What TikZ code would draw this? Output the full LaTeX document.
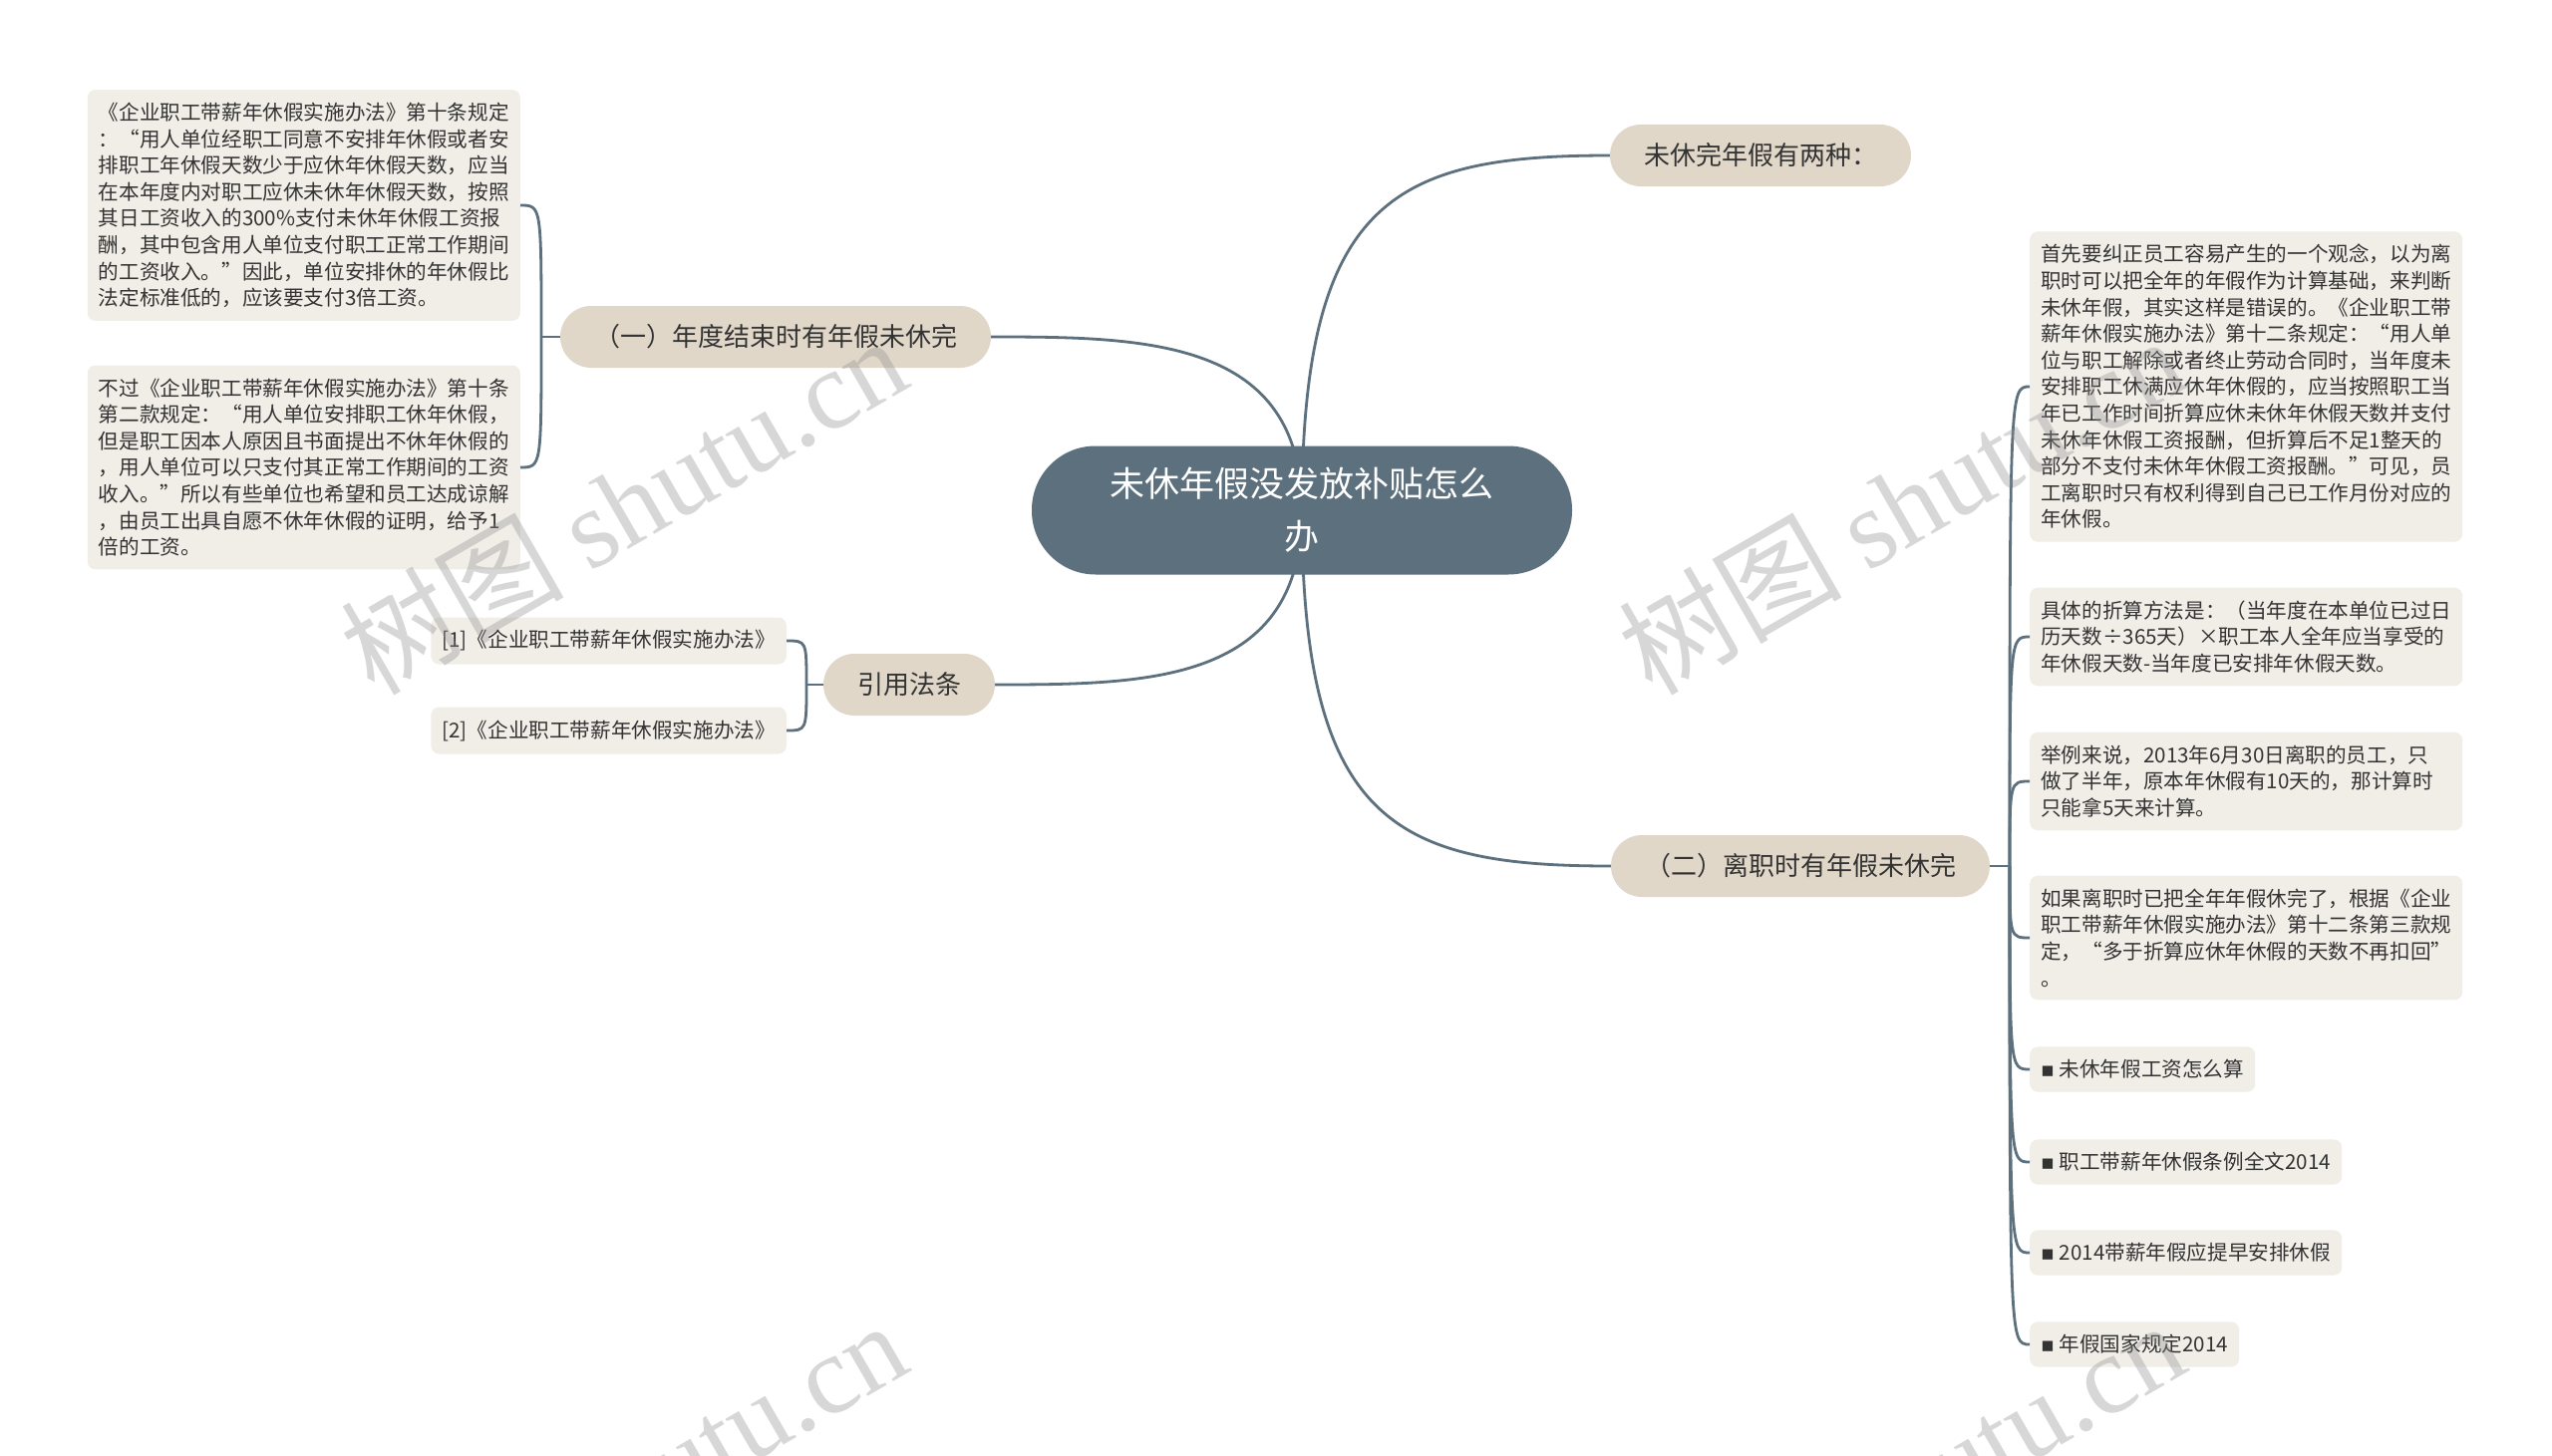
\documentclass[tikz,border=0pt]{standalone}
\usepackage{fontspec}
\setmainfont{Noto Sans CJK SC}
\newfontfamily\wmlatin{Liberation Serif}
\newfontfamily\symfont{DejaVu Sans}
\usetikzlibrary{calc,positioning,backgrounds}

\definecolor{slate}{HTML}{5D707D}
\definecolor{sand}{HTML}{E0D7C9}
\definecolor{paper}{HTML}{F1EEE8}
\definecolor{ink}{HTML}{333333}
\definecolor{wmgray}{HTML}{8E8E8E}

\newcommand{\sqbullet}{{\symfont ▪}\ }

\begin{document}
\begin{tikzpicture}[x=1pt,y=-1pt,
    topicnode/.style={fill=slate, text=white, rounded corners=64pt, minimum width=542pt,
        minimum height=129pt, align=center, font=\fontsize{35}{53}\selectfont},
    branchnode/.style={fill=sand, text=ink, rounded corners=31pt, minimum height=62pt,
        inner xsep=34pt, font=\fontsize{26}{30}\selectfont},
    leafnode/.style={fill=paper, text=ink, rounded corners=8pt, inner xsep=11pt,
        inner ysep=13pt, align=left, font=\fontsize{20.6}{26.6}\selectfont},
    bigleaf/.style={leafnode, text width=412pt},
    linkline/.style={draw=slate, line width=2.8pt},
    wmtext/.style={text=wmgray, opacity=0.35, rotate=30, font=\fontsize{112}{112}\selectfont}]

        \useasboundingbox (0,0) rectangle (2560,1461);

        % 中心主题 root
        \node[topicnode] (root) at (1306,512) {未休年假没发放补贴怎么\\办};

        % 分支 branches
        \node[branchnode] (twokinds) at (1766,156) {未休完年假有两种：};
        \node[branchnode] (yearend) at (778,338) {（一）年度结束时有年假未休完};
        \node[branchnode] (lawref) at (912,687) {引用法条};
        \node[branchnode] (resign) at (1806,869) {（二）离职时有年假未休完};

        % 左侧叶子 left leaves
        \node[bigleaf, anchor=east] (yearA) at (522,206) {%
《企业职工带薪年休假实施办法》第十条规定\\
：“用人单位经职工同意不安排年休假或者安\\
排职工年休假天数少于应休年休假天数，应当\\
在本年度内对职工应休未休年休假天数，按照\\
其日工资收入的300\%支付未休年休假工资报\\
酬，其中包含用人单位支付职工正常工作期间\\
的工资收入。”因此，单位安排休的年休假比\\
法定标准低的，应该要支付3倍工资。};
        \node[bigleaf, anchor=east] (yearB) at (522,469) {%
不过《企业职工带薪年休假实施办法》第十条\\
第二款规定：“用人单位安排职工休年休假，\\
但是职工因本人原因且书面提出不休年休假的\\
，用人单位可以只支付其正常工作期间的工资\\
收入。”所以有些单位也希望和员工达成谅解\\
，由员工出具自愿不休年休假的证明，给予1\\
倍的工资。};
        \node[leafnode, anchor=east] (refA) at (789,643) {[1]《企业职工带薪年休假实施办法》};
        \node[leafnode, anchor=east] (refB) at (789,733) {[2]《企业职工带薪年休假实施办法》};

        % 右侧叶子 right leaves
        \node[bigleaf, anchor=west] (quitA) at (2036,388) {%
首先要纠正员工容易产生的一个观念，以为离\\
职时可以把全年的年假作为计算基础，来判断\\
未休年假，其实这样是错误的。《企业职工带\\
薪年休假实施办法》第十二条规定：“用人单\\
位与职工解除或者终止劳动合同时，当年度未\\
安排职工休满应休年休假的，应当按照职工当\\
年已工作时间折算应休未休年休假天数并支付\\
未休年休假工资报酬，但折算后不足1整天的\\
部分不支付未休年休假工资报酬。”可见，员\\
工离职时只有权利得到自己已工作月份对应的\\
年休假。};
        \node[bigleaf, anchor=west] (quitB) at (2036,639) {%
具体的折算方法是：（当年度在本单位已过日\\
历天数÷365天）×职工本人全年应当享受的\\
年休假天数-当年度已安排年休假天数。};
        \node[bigleaf, anchor=west] (quitC) at (2036,784) {%
举例来说，2013年6月30日离职的员工，只\\
做了半年，原本年休假有10天的，那计算时\\
只能拿5天来计算。};
        \node[bigleaf, anchor=west] (quitD) at (2036,941) {%
如果离职时已把全年年假休完了，根据《企业\\
职工带薪年休假实施办法》第十二条第三款规\\
定，“多于折算应休年休假的天数不再扣回”\\
。};
        \node[leafnode, anchor=west] (quitE) at (2036,1073) {\sqbullet 未休年假工资怎么算};
        \node[leafnode, anchor=west] (quitF) at (2036,1166) {\sqbullet 职工带薪年休假条例全文2014};
        \node[leafnode, anchor=west] (quitG) at (2036,1257) {\sqbullet 2014带薪年假应提早安排休假};
        \node[leafnode, anchor=west] (quitH) at (2036,1349) {\sqbullet 年假国家规定2014};

        \coordinate (yearfork) at (543,338);
        \coordinate (reffork) at (809,687);
        \coordinate (quitfork) at (2016,869);

        \begin{pgfonlayer}{background}
            \fill[white] (0,0) rectangle (2560,1461);
            \draw[linkline] (root.center) .. controls +(0,-312) and +(-216,0) .. (twokinds.west);
            \draw[linkline] (root.center) .. controls +(0,-172) and +(156,0) .. (yearend.east);
            \draw[linkline] (root.center) .. controls +(0,173) and +(156,0) .. (lawref.east);
            \draw[linkline] (root.center) .. controls +(0,313) and +(-216,0) .. (resign.west);
        \end{pgfonlayer}

        % 括号连线 brackets
        \draw[linkline] (yearend.west) -- (yearfork);
        \foreach \v in {yearA,yearB}
        {
            \draw[linkline] (yearfork) .. controls (yearfork |- \v.east) and (yearfork |- \v.east) .. (\v.east);
        };
        \draw[linkline] (lawref.west) -- (reffork);
        \foreach \v in {refA,refB}
        {
            \draw[linkline] (reffork) .. controls (reffork |- \v.east) and (reffork |- \v.east) .. (\v.east);
        };
        \draw[linkline] (resign.east) -- (quitfork);
        \foreach \v in {quitA,quitB,quitC,quitD,quitE,quitF,quitG,quitH}
        {
            \draw[linkline] (quitfork) .. controls (quitfork |- \v.west) and (quitfork |- \v.west) .. (\v.west);
        };

        % 水印 watermark
        \foreach \wx/\wy [count=\i] in {625/506, 1907/506, 625/1494, 1907/1494}
        {
            \node[wmtext] (mark\i) at (\wx,\wy) {树图 {\wmlatin shutu.cn}};
        };
    \end{tikzpicture}
\end{document}
